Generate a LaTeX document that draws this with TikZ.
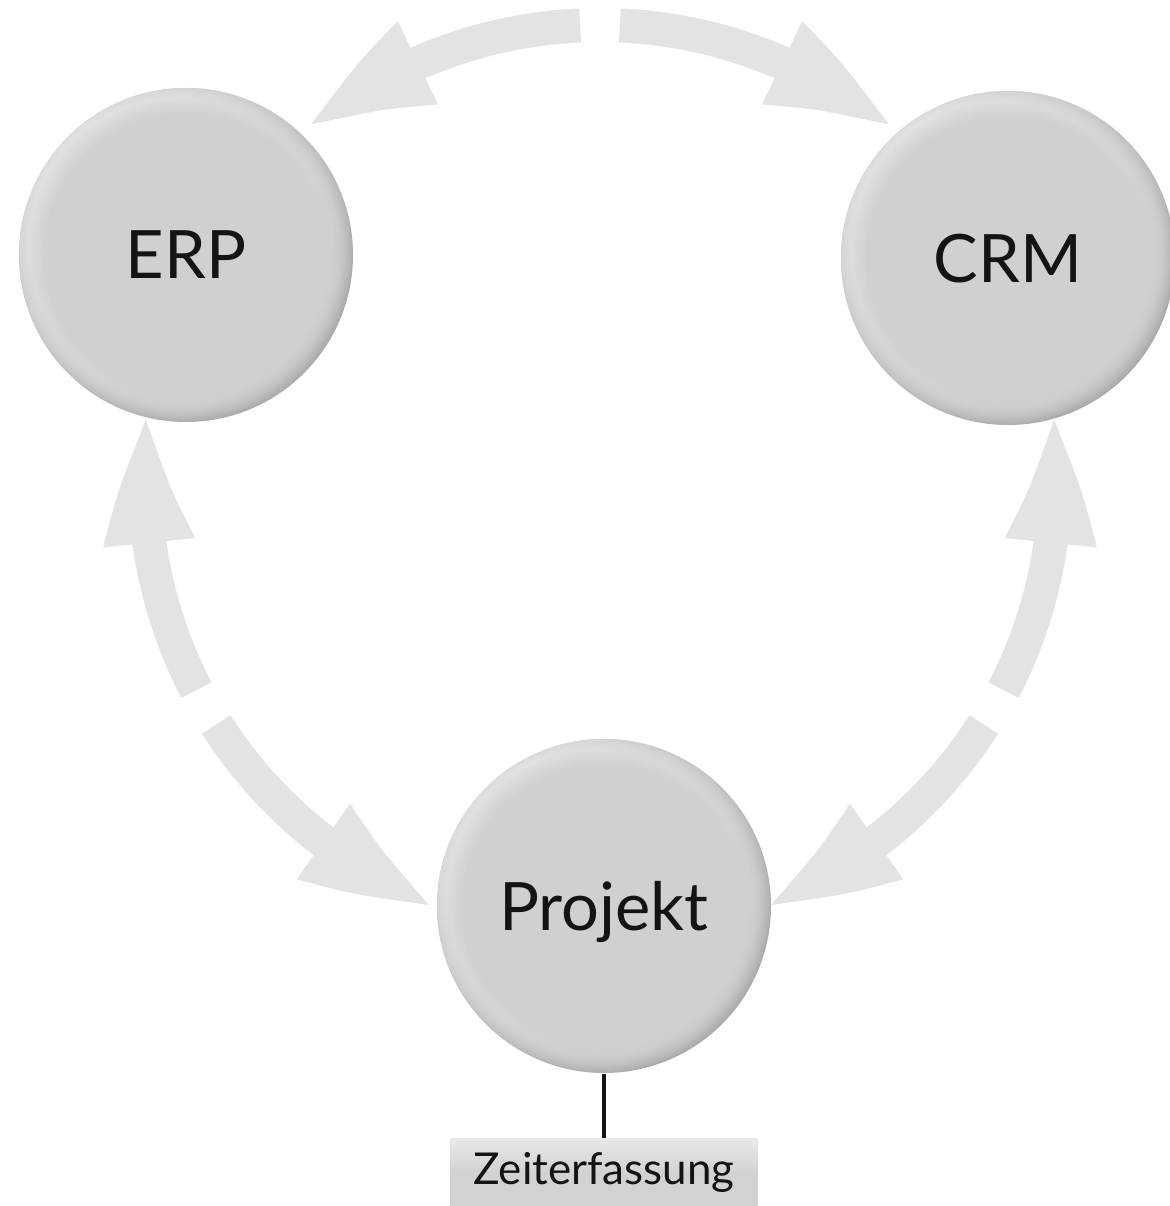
\documentclass[tikz,border=0pt]{standalone}
\usepackage{fontspec}
\setmainfont{Lato}
\usetikzlibrary{arrows.meta,bending,fadings,calc}
\definecolor{FlowGray}{HTML}{E3E3E3}
\definecolor{BallFace}{HTML}{CFD0D0}
\definecolor{BallLight}{HTML}{E6E6E6}
\definecolor{BallDark}{HTML}{ABABAB}
\definecolor{BoxFace}{HTML}{D2D2D2}
\definecolor{BoxLight}{HTML}{E8E8E8}
\definecolor{InkBlack}{HTML}{141414}

\tikzset{
  flow/.style={FlowGray, line width=3.4mm, -{Triangle[length=13.5mm, width=8mm, bend]}},
  ball/.style={circle, minimum size=3.34cm, inner sep=0pt, fill=BallDark, text=InkBlack,
    text depth=0pt, font=\fontsize{19}{23}\selectfont,
    path picture={
      \fill[BallLight, path fading=circle with fuzzy edge 20 percent]
        ([shift={(-0.12,0.12)}]path picture bounding box.center) circle (1.80);
      \fill[BallFace, path fading=circle with fuzzy edge 15 percent]
        (path picture bounding box.center) circle (1.66);
    }},
  tagbox/.style={rectangle, minimum width=3.08cm, minimum height=0.67cm, inner sep=0pt,
    top color=BoxLight, bottom color=BoxFace, middle color=BoxFace, text=InkBlack,
    font=\fontsize{12.5}{14}\selectfont}
}

\begin{document}
\begin{tikzpicture}
\useasboundingbox (0,0) rectangle (11.70,12.06);

% Circular flow arrows
\coordinate (O) at (6.00,7.26);
\foreach \s/\e [count=\i] in {92.5/130.5, 87.5/49.5, 207.5/171, 212.5/249.5, 332.5/369, 327.5/290.5} {
  \coordinate (f\i) at ($(O)+(\s:4.55)$);
  \draw[flow] (f\i) arc[start angle=\s, end angle=\e, radius=4.55];
}

% Systems
\node[ball] (erp) at (1.86,9.51) {ERP};
\node[ball] (crm) at (10.08,9.48) {CRM};
\node[ball] (proj) at (6.04,3.00) {Projekt};

% Zeiterfassung
\node[tagbox] (zeit) at (6.04,0.335) {Zeiterfassung};
\draw[line width=1pt, InkBlack] (proj.south) -- (zeit.north);

\end{tikzpicture}
\end{document}
